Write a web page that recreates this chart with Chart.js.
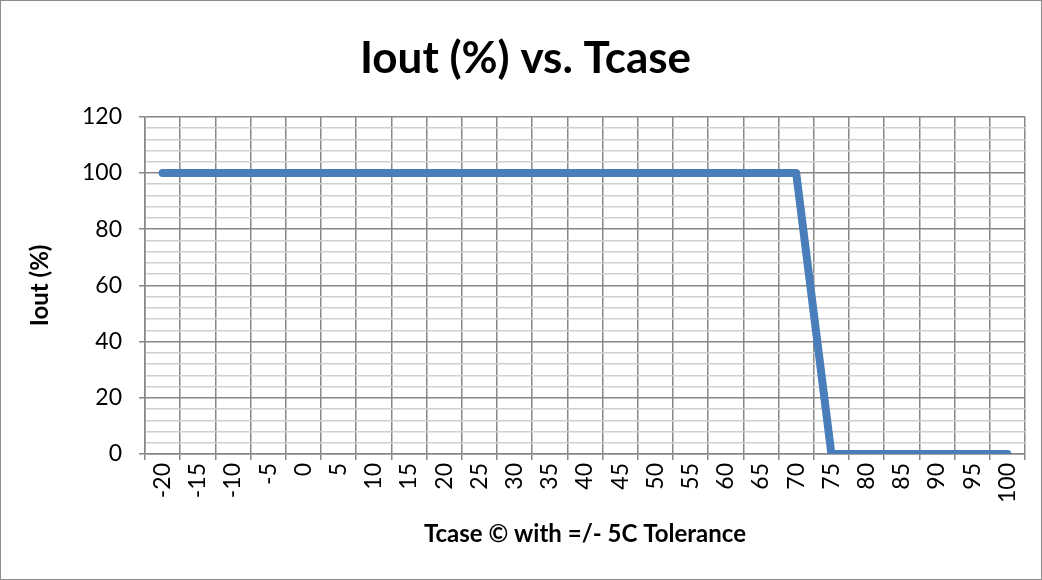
<!DOCTYPE html>
<html>
<head>
<meta charset="utf-8">
<script src="https://cdn.jsdelivr.net/npm/chart.js@4"></script>
<style>
  body { margin: 0; background: #fff; }
  #wrap { width: 1042px; height: 580px; }
</style>
</head>
<body>
<div id="wrap"><canvas id="myChart" width="1042" height="580"></canvas></div>
<script>
const categories = ['-20', '-15', '-10', '-5', '0', '5', '10', '15', '20', '25', '30', '35', '40',
    '45', '50', '55', '60', '65', '70', '75', '80', '85', '90', '95', '100']
const ioutPct = [100, 100, 100, 100, 100, 100, 100, 100, 100, 100, 100, 100, 100,
    100, 100, 100, 100, 100, 100, 0, 0, 0, 0, 0, 0]
const yMin = 0
const yMax = 120
const yMajor = 20
const yMinor = 4

const FONT = 'Lato, "Open Sans", sans-serif'

// grey frame around the whole chart, like the Excel chart area
const frame = {
    id: 'frame',
    afterDraw(chart) {
        const c = chart.ctx
        c.save()
        c.strokeStyle = '#8c8c8c'
        c.lineWidth = 1
        c.strokeRect(0.5, 0.5, chart.width - 1, chart.height - 1)
        c.restore()
    }
}

const ctx = document.getElementById('myChart')

new Chart(ctx, {
    type: 'line',
    data: {
        labels: categories,
        datasets: [{
            label: 'Iout (%)',
            data: ioutPct,
            borderColor: '#4a7ebb',
            borderWidth: 8,
            pointRadius: 0,
            tension: 0,
            borderCapStyle: 'round',
            borderJoinStyle: 'round'
        }]
    },
    options: {
        responsive: false,
        animation: false,
        layout: { padding: { left: 26, right: 17, top: 15, bottom: 31 } },
        plugins: {
            legend: { display: false },
            tooltip: { enabled: false },
            title: {
                display: true,
                text: 'Iout (%) vs. Tcase',
                color: '#000',
                font: { family: FONT, size: 44, weight: 'bold' },
                padding: { top: 17, bottom: 32 }
            }
        },
        scales: {
            x: {
                offset: true,
                grid: {
                    offset: true,
                    color: '#878787',
                    tickLength: 6,
                    lineWidth: 1.5
                },
                border: { color: '#878787', width: 1.5 },
                ticks: {
                    maxRotation: 90,
                    minRotation: 90,
                    autoSkip: false,
                    color: '#000',
                    padding: 3,
                    font: { family: FONT, size: 23 }
                },
                title: {
                    display: true,
                    text: 'Tcase © with =/- 5C Tolerance',
                    color: '#000',
                    font: { family: FONT, size: 24, weight: 'bold' },
                    padding: { top: 10, bottom: 0 }
                },
                afterFit(scale) { scale.height = 95 }
            },
            y: {
                min: yMin,
                max: yMax,
                grid: {
                    color: (c) => c.tick && c.tick.value % yMajor === 0 ? '#878787' : '#cfcfcf',
                    tickColor: (c) => c.tick && c.tick.value % yMajor === 0 ? '#878787' : 'rgba(0,0,0,0)',
                    lineWidth: 1.5,
                    tickLength: 6
                },
                border: { color: '#878787', width: 1.5 },
                ticks: {
                    stepSize: yMinor,
                    autoSkip: false,
                    color: '#000',
                    padding: 17,
                    font: { family: FONT, size: 23 },
                    callback: (v) => v % yMajor === 0 ? v : ''
                },
                title: {
                    display: true,
                    text: 'Iout (%)',
                    color: '#000',
                    font: { family: FONT, size: 24, weight: 'bold' },
                    padding: { top: 0, bottom: 10 }
                },
                afterFit(scale) { scale.width = 119 }
            }
        }
    },
    plugins: [frame]
})
</script>
</body>
</html>
